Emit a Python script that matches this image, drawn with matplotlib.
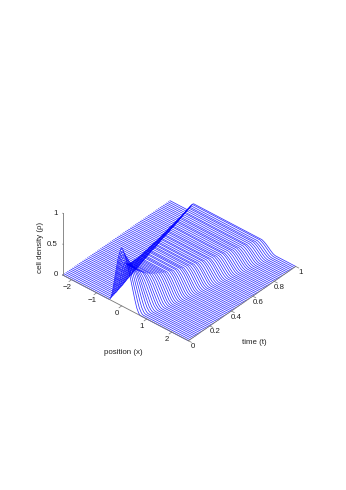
import numpy as np
import matplotlib
matplotlib.use('Agg')
import matplotlib.pyplot as plt
from mpl_toolkits.mplot3d import Axes3D, proj3d

# one entry per drawn time line: where each front starts and tops out, and how high
line_t = [0.000, 0.015, 0.031, 0.046, 0.062, 0.077, 0.092, 0.108, 0.123, 0.138, 0.154,
          0.169, 0.185, 0.200, 0.215, 0.231, 0.246, 0.262, 0.277, 0.292, 0.308,
          0.323, 0.338, 0.354, 0.369, 0.385, 0.400, 0.415, 0.431, 0.446, 0.462,
          0.477, 0.492, 0.508, 0.523, 0.538, 0.554, 0.569, 0.585, 0.600, 0.615,
          0.631, 0.646, 0.662, 0.677, 0.692, 0.708, 0.723, 0.738, 0.754, 0.769,
          0.785, 0.800, 0.815, 0.831, 0.846, 0.862, 0.877, 0.892, 0.908, 0.923,
          0.938, 0.954, 0.969, 0.985, 1.000]
left_foot = [-0.50, -0.52, -0.54, -0.55, -0.57, -0.58, -0.60, -0.62, -0.64, -0.65, -0.67,
             -0.69, -0.71, -0.73, -0.75, -0.77, -0.79, -0.80, -0.82, -0.84, -0.86,
             -0.88, -0.90, -0.91, -0.93, -0.95, -0.97, -0.99, -1.01, -1.03, -1.05,
             -1.07, -1.09, -1.11, -1.13, -1.15, -1.16, -1.17, -1.19, -1.21, -1.23,
             -1.25, -1.27, -1.29, -1.31, -1.32, -1.34, -1.35, -1.37, -1.39, -1.41,
             -1.43, -1.44, -1.46, -1.48, -1.50, -1.52, -1.54, -1.56, -1.58, -1.60,
             -1.62, -1.64, -1.66, -1.68, -1.70]
left_top = [0.00, -0.05, -0.10, -0.14, -0.18, -0.21, -0.25, -0.27, -0.30, -0.33, -0.36,
            -0.38, -0.41, -0.44, -0.46, -0.48, -0.51, -0.52, -0.54, -0.56, -0.58,
            -0.60, -0.62, -0.64, -0.66, -0.68, -0.70, -0.72, -0.74, -0.76, -0.78,
            -0.79, -0.81, -0.83, -0.84, -0.86, -0.87, -0.89, -0.91, -0.93, -0.95,
            -0.97, -0.98, -1.00, -1.02, -1.04, -1.06, -1.07, -1.09, -1.10, -1.12,
            -1.14, -1.16, -1.18, -1.19, -1.21, -1.22, -1.24, -1.26, -1.28, -1.30,
            -1.32, -1.34, -1.36, -1.38, -1.41]
right_top = [0.00, 0.02, 0.05, 0.08, 0.12, 0.15, 0.18, 0.22, 0.26, 0.29, 0.32,
             0.35, 0.38, 0.41, 0.43, 0.46, 0.48, 0.50, 0.52, 0.54, 0.55,
             0.57, 0.59, 0.60, 0.62, 0.64, 0.66, 0.67, 0.69, 0.70, 0.72,
             0.74, 0.75, 0.77, 0.78, 0.80, 0.81, 0.83, 0.84, 0.86, 0.87,
             0.89, 0.90, 0.92, 0.94, 0.95, 0.97, 0.98, 1.00, 1.01, 1.03,
             1.05, 1.06, 1.07, 1.09, 1.11, 1.12, 1.14, 1.15, 1.17, 1.18,
             1.20, 1.22, 1.24, 1.26, 1.28]
right_foot = [0.75, 0.79, 0.82, 0.86, 0.89, 0.92, 0.95, 0.98, 1.00, 1.02, 1.04,
              1.06, 1.08, 1.09, 1.11, 1.12, 1.14, 1.15, 1.17, 1.18, 1.20,
              1.21, 1.23, 1.24, 1.26, 1.27, 1.29, 1.30, 1.32, 1.33, 1.35,
              1.36, 1.38, 1.40, 1.41, 1.43, 1.44, 1.46, 1.47, 1.49, 1.50,
              1.52, 1.54, 1.55, 1.57, 1.58, 1.60, 1.61, 1.63, 1.64, 1.66,
              1.67, 1.68, 1.70, 1.71, 1.73, 1.74, 1.75, 1.77, 1.78, 1.80,
              1.81, 1.83, 1.84, 1.86, 1.87]
top_h = [0.94, 0.85, 0.77, 0.70, 0.63, 0.57, 0.53, 0.49, 0.47, 0.44, 0.42,
         0.41, 0.39, 0.38, 0.37, 0.36, 0.35, 0.34, 0.33, 0.32, 0.32,
         0.31, 0.30, 0.30, 0.29, 0.29, 0.28, 0.27, 0.27, 0.27, 0.26,
         0.26, 0.25, 0.25, 0.24, 0.24, 0.24, 0.23, 0.23, 0.23, 0.22,
         0.22, 0.22, 0.21, 0.21, 0.21, 0.21, 0.20, 0.20, 0.20, 0.20,
         0.19, 0.19, 0.19, 0.18, 0.18, 0.18, 0.18, 0.17, 0.17, 0.17,
         0.17, 0.16, 0.16, 0.16, 0.15]
# shape of a front: position across it, fraction of the height
edge_s = [0.00, 0.05, 0.10, 0.20, 0.30, 0.40, 0.50, 0.60, 0.70, 0.80, 0.90, 0.95, 1.00]
edge_f = [0.00, 0.01, 0.03, 0.10, 0.22, 0.36, 0.50, 0.64, 0.77, 0.87, 0.95, 0.985, 1.00]

x_ticks = [-2, -1, 0, 1, 2]
t_ticks = [0, 0.2, 0.4, 0.6, 0.8, 1]
t_labels = ['0', '0.2', '0.4', '0.6', '0.8', '1']
z_ticks = [0, 0.5, 1]
z_labels = ['0', '0.5', '1']

x_min, x_max = -2.36, 2.66
grey = '#777777'
txt = '#222222'
plt.rcParams['font.family'] = 'Liberation Sans'

fig = plt.figure(figsize=(3.46, 4.90), dpi=100)
ax = fig.add_axes([1.5 / 346, 72.5 / 490, 1.0, 346 / 490], projection='3d', proj_type='ortho')
ax.patch.set_alpha(0)
ax.view_init(elev=37, azim=-49)
ax.set_box_aspect((168, 165, 78), zoom=0.69)
ax.set_xlim(x_min, x_max)
ax.set_ylim(0, 1)
ax.set_zlim(0, 1)
ax.set_axis_off()

s = np.array(edge_s)
f = np.array(edge_f)
for i in range(len(line_t)):
    up = left_foot[i] + s * (left_top[i] - left_foot[i])
    down = right_top[i] + s * (right_foot[i] - right_top[i])
    xs = np.r_[x_min, up, down[1:], x_max]
    zs = np.r_[0, top_h[i] * f, top_h[i] * f[::-1][1:], 0]
    ax.plot(xs, [line_t[i]] * len(xs), zs, color='#0000ff', lw=0.55, alpha=0.8)

ax.plot([x_min, x_max], [0, 0], [0, 0], color=grey, lw=0.6)
ax.plot([x_max, x_max], [0, 1], [0, 0], color=grey, lw=0.6)
ax.plot([x_min, x_min], [0, 0], [0, 1], color=grey, lw=0.6)
for v in x_ticks:
    ax.plot([v, v], [0, -0.025], [0, 0], color=grey, lw=0.5)
for v in t_ticks:
    ax.plot([x_max, x_max + 0.12], [v, v], [0, 0], color=grey, lw=0.5)
for v in z_ticks:
    ax.plot([x_min, x_min + 0.03], [0, 0], [v, v], color=grey, lw=0.5)

# tick labels as plain 2d text, placed from the projected tick position
def label(x, y, z, text, dx, dy, ha='center'):
    fig.canvas.draw()
    px, py, _ = proj3d.proj_transform(x, y, z, ax.get_proj())
    ax.annotate(text, xy=(px, py), xytext=(dx, dy), textcoords='offset pixels',
                fontsize=5.7, ha=ha, va='center', color=txt, annotation_clip=False)

for v in x_ticks:
    label(v, 0, 0, str(v).replace('-', '\u2212'), -5, -7.5)
for v, lab in zip(t_ticks, t_labels):
    label(x_max, v, 0, lab, 5, -6)
for v, lab in zip(z_ticks, z_labels):
    label(x_min, 0, v, lab, -5, 0, ha='right')

fig.text(123 / 346, 1 - 352 / 490, 'position (x)', fontsize=5.7, ha='center', va='center', color=txt)
fig.text(254 / 346, 1 - 343 / 490, 'time (t)', fontsize=5.7, ha='center', va='center', color=txt)
fig.text(41 / 346, 1 - 247 / 490, 'cell density (\u03c1)', fontsize=5.7, rotation=90, ha='center', va='center', color=txt)

fig.savefig('out.png', dpi=100)
